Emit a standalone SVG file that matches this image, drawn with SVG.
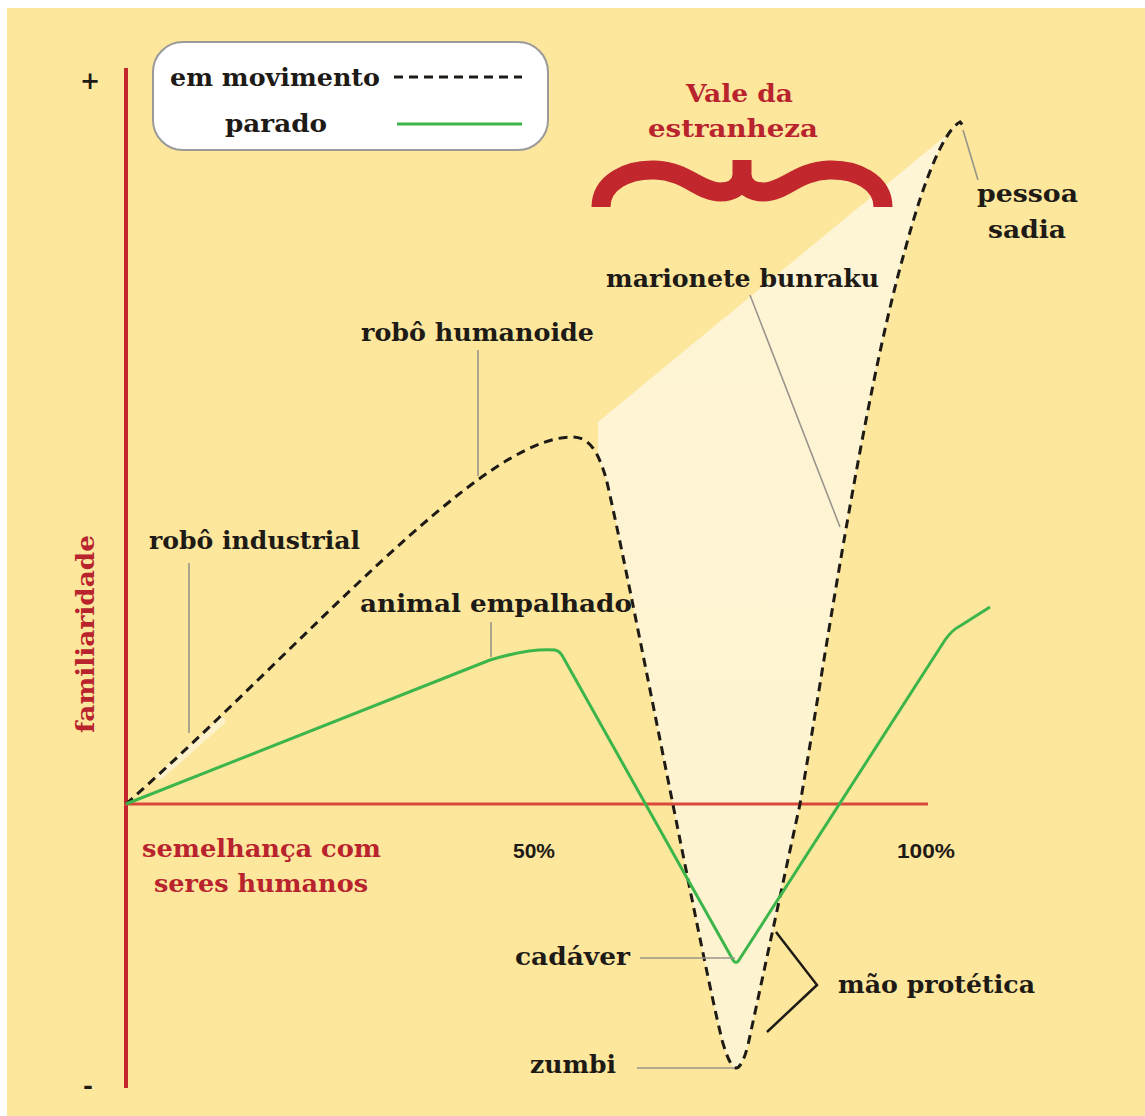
<svg xmlns="http://www.w3.org/2000/svg" width="1145" height="1116" viewBox="0 0 1145 1116">
<style>
.lbl{font-family:"DejaVu Serif","Liberation Serif",serif;font-weight:bold;font-size:24px;fill:#1e1a16}
.red{fill:#b8232d}
.pct{font-family:"Liberation Sans",Arial,sans-serif;font-weight:bold;font-size:21px;fill:#1e1a16}
.lead{stroke:#9a958c;stroke-width:1.6;fill:none}
.dash{stroke:#1e1a16;stroke-width:3;fill:none;stroke-dasharray:9 6}
.green{stroke:#3cb54a;stroke-width:3;fill:none;stroke-linejoin:round}
</style>
<defs>
<linearGradient id="cream" x1="0" y1="0" x2="0" y2="1">
<stop offset="0" stop-color="#fef5d6"/>
<stop offset="1" stop-color="#fef3cf"/>
</linearGradient>
</defs>
<rect width="1145" height="1116" fill="#ffffff"/>
<rect x="7" y="8" width="1138" height="1108" fill="#fce79d"/>
<path d="M598,422 L960,124 C945,130 925,175 905,250 C862,400 822,680 800,804 L748,1045 Q742,1068 736,1068 Q730,1068 722,1040 C700,950 630,580 606,478 L598,458 Z" fill="url(#cream)"/>
<line x1="160" y1="776" x2="222" y2="721" stroke="#fff8e0" stroke-width="7" stroke-linecap="round" opacity="0.7"/>

<g id="axes">
<line x1="126" y1="68" x2="126" y2="1088" stroke="#c4262e" stroke-width="4"/>
<line x1="124" y1="804" x2="928" y2="804" stroke="#d9483b" stroke-width="3"/>
<text x="90" y="89" class="lbl" font-size="32" text-anchor="middle">+</text>
<text x="88" y="1094" class="lbl" font-size="30" text-anchor="middle">-</text>
<text transform="translate(94,634) rotate(-90)" class="lbl red" text-anchor="middle" textLength="198" lengthAdjust="spacingAndGlyphs">familiaridade</text>
<text x="142" y="857" class="lbl red" textLength="239" lengthAdjust="spacingAndGlyphs">semelhança com</text>
<text x="154" y="892" class="lbl red" textLength="214" lengthAdjust="spacingAndGlyphs">seres humanos</text>
<text x="513" y="858" class="pct" textLength="42" lengthAdjust="spacingAndGlyphs">50%</text>
<text x="897" y="858" class="pct" textLength="58" lengthAdjust="spacingAndGlyphs">100%</text>
</g>

<g id="legend">
<rect x="153" y="42" width="395" height="108" rx="30" fill="#ffffff" stroke="#9a9a9a" stroke-width="2"/>
<text x="170" y="86" class="lbl" textLength="210" lengthAdjust="spacingAndGlyphs">em movimento</text>
<line x1="394" y1="77" x2="522" y2="77" class="dash"/>
<text x="225" y="132" class="lbl" textLength="102" lengthAdjust="spacingAndGlyphs">parado</text>
<line x1="397" y1="124" x2="522" y2="124" class="green"/>
</g>

<g id="vale">
<text x="686" y="102" class="lbl red" textLength="107" lengthAdjust="spacingAndGlyphs">Vale da</text>
<text x="648" y="137" class="lbl red" textLength="170" lengthAdjust="spacingAndGlyphs">estranheza</text>
<g fill="none" stroke="#c1272d" stroke-width="19">
<path d="M601,207 C601,182 628,169 655,170 C686,171 700,192 720,192 C733,192 741,186 742,176"/>
<path d="M883,207 C883,182 856,169 829,170 C798,171 784,192 764,192 C751,192 743,186 742,176"/>
<line x1="742" y1="180" x2="742" y2="160"/>
</g>
</g>

<g id="connectors">
<path class="dash" d="M126,804 C300,650 480,437 572,437 C590,437 598,452 606,478 C630,580 700,950 722,1040 Q730,1068 736,1068 Q742,1068 748,1045 L800,804 C822,680 862,400 905,250 C925,175 945,130 960,122 L965,128"/>
<path class="green" d="M126,804 L490,660 Q530,648 555,650 Q560,651 563,657 L733,960 Q736,965 739,960 L945,640 Q952,630 960,626 L990,607"/>
<line class="lead" x1="189" y1="563" x2="189" y2="733"/>
<line class="lead" x1="478" y1="350" x2="478" y2="476"/>
<line class="lead" x1="491" y1="622" x2="491" y2="657"/>
<line class="lead" x1="750" y1="295" x2="840" y2="527"/>
<line class="lead" x1="963" y1="130" x2="978" y2="180"/>
<line class="lead" x1="640" y1="958" x2="735" y2="958"/>
<line class="lead" x1="637" y1="1068" x2="735" y2="1068"/>
<polyline points="776,932 817,985 767,1032" fill="none" stroke="#1e1a16" stroke-width="2.5"/>
</g>

<g id="pessoa-sadia"><text x="977" y="202" class="lbl" textLength="101" lengthAdjust="spacingAndGlyphs">pessoa</text><text x="988" y="238" class="lbl" textLength="78" lengthAdjust="spacingAndGlyphs">sadia</text></g>
<g id="marionete"><text x="606" y="287" class="lbl" textLength="273" lengthAdjust="spacingAndGlyphs">marionete bunraku</text></g>
<g id="robo-humanoide"><text x="361" y="341" class="lbl" textLength="233" lengthAdjust="spacingAndGlyphs">robô humanoide</text></g>
<g id="robo-industrial"><text x="149" y="549" class="lbl" textLength="211" lengthAdjust="spacingAndGlyphs">robô industrial</text></g>
<g id="animal"><text x="360" y="612" class="lbl" textLength="272" lengthAdjust="spacingAndGlyphs">animal empalhado</text></g>
<g id="cadaver"><text x="515" y="965" class="lbl" textLength="115" lengthAdjust="spacingAndGlyphs">cadáver</text></g>
<g id="zumbi"><text x="530" y="1073" class="lbl" textLength="86" lengthAdjust="spacingAndGlyphs">zumbi</text></g>
<g id="mao"><text x="838" y="993" class="lbl" textLength="197" lengthAdjust="spacingAndGlyphs">mão protética</text></g>
</svg>
